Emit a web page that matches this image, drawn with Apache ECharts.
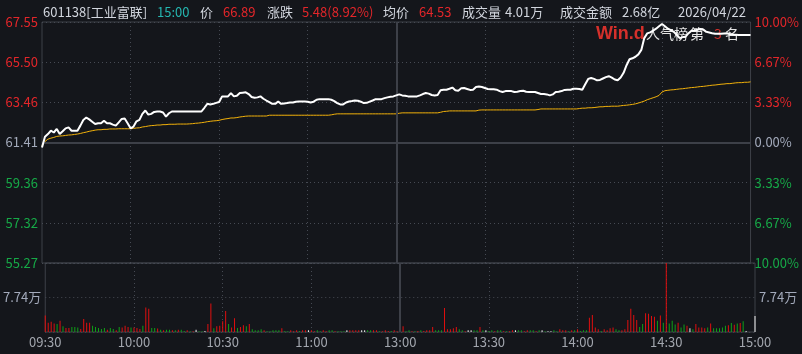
<!DOCTYPE html>
<html>
<head>
<meta charset="utf-8">
<script src="https://cdn.jsdelivr.net/npm/echarts@6/dist/echarts.min.js"></script>
<style>
html,body{margin:0;padding:0;background:#14161b}
#main{width:802px;height:354px}
</style>
</head>
<body>
<div id="main"></div>
<script>
const preClose = 61.41

// 分时价格 09:30 - 11:30, 13:01 - 15:00
const price = [
  61.15, 61.70, 61.84, 62.01, 61.92, 62.10, 61.84, 61.98, 62.13, 62.18,
  62.01, 62.01, 62.01, 62.27, 62.56, 62.68, 62.59, 62.47, 62.35, 62.39,
  62.39, 62.52, 62.39, 62.39, 62.32, 62.27, 62.44, 62.61, 62.63, 62.39,
  62.13, 62.22, 62.49, 62.56, 62.87, 63.04, 62.83, 62.87, 62.97, 62.99,
  62.99, 62.94, 62.73, 62.90, 62.99, 62.99, 62.99, 62.99, 62.99, 62.99,
  62.99, 62.99, 62.99, 62.99, 62.99, 63.18, 63.38, 63.35, 63.38, 63.43,
  63.47, 63.76, 63.76, 63.76, 63.93, 63.76, 63.79, 63.93, 63.95, 63.97,
  63.88, 63.73, 63.69, 63.71, 63.76, 63.64, 63.55, 63.47, 63.38, 63.38,
  63.50, 63.38, 63.40, 63.42, 63.45, 63.45, 63.49, 63.50, 63.50, 63.50,
  63.49, 63.45, 63.49, 63.59, 63.62, 63.62, 63.62, 63.62, 63.59, 63.52,
  63.42, 63.35, 63.35, 63.45, 63.50, 63.52, 63.55, 63.54, 63.49, 63.42,
  63.43, 63.49, 63.55, 63.62, 63.62, 63.62, 63.67, 63.71, 63.74, 63.76,
  63.81, 63.86, 63.81, 63.79, 63.76, 63.76, 63.76, 63.76, 63.81, 63.88,
  63.93, 63.90, 63.83, 63.81, 63.83, 64.07, 64.10, 64.10, 64.15, 64.21,
  64.07, 64.05, 64.17, 64.19, 64.14, 64.09, 64.10, 64.24, 64.26, 64.24,
  64.19, 64.14, 64.12, 64.12, 64.10, 64.03, 63.98, 64.03, 64.03, 64.03,
  63.98, 64.00, 64.03, 64.05, 64.00, 63.98, 63.98, 63.98, 63.93, 63.88,
  63.88, 63.86, 63.81, 63.86, 63.98, 64.00, 64.03, 64.09, 64.10, 64.10,
  64.15, 64.15, 64.14, 64.10, 64.38, 64.65, 64.70, 64.65, 64.58, 64.60,
  64.67, 64.74, 64.79, 64.72, 64.62, 64.58, 64.72, 64.96, 65.35, 65.65,
  65.70, 65.78, 65.90, 66.13, 66.73, 66.97, 67.02, 67.11, 67.21, 67.33,
  67.45, 67.33, 67.21, 67.14, 67.05, 66.90, 66.73, 66.78, 66.81, 66.98,
  67.11, 67.12, 67.16, 67.19, 67.16, 67.05, 67.02, 66.98, 66.95, 66.95,
  66.95, 66.97, 66.98, 66.93, 66.91, 66.90, 66.89, 66.89, 66.89, 66.89,
  66.89
]

// 均价
const avgPrice = [
  61.24, 61.46, 61.58, 61.63, 61.67, 61.72, 61.74, 61.75, 61.77, 61.79,
  61.80, 61.82, 61.84, 61.87, 61.91, 61.94, 61.98, 62.01, 62.04, 62.06,
  62.06, 62.08, 62.08, 62.10, 62.10, 62.10, 62.11, 62.11, 62.11, 62.11,
  62.11, 62.13, 62.15, 62.16, 62.20, 62.22, 62.25, 62.27, 62.28, 62.30,
  62.30, 62.32, 62.32, 62.34, 62.34, 62.34, 62.35, 62.35, 62.35, 62.35,
  62.36, 62.37, 62.39, 62.40, 62.42, 62.44, 62.47, 62.49, 62.51, 62.52,
  62.54, 62.58, 62.61, 62.63, 62.66, 62.66, 62.68, 62.71, 62.73, 62.75,
  62.76, 62.76, 62.76, 62.76, 62.76, 62.76, 62.76, 62.80, 62.80, 62.80,
  62.80, 62.80, 62.80, 62.80, 62.80, 62.80, 62.80, 62.80, 62.80, 62.80,
  62.80, 62.80, 62.80, 62.80, 62.80, 62.80, 62.80, 62.80, 62.82, 62.85,
  62.87, 62.87, 62.87, 62.87, 62.87, 62.87, 62.87, 62.87, 62.87, 62.87,
  62.87, 62.87, 62.87, 62.87, 62.87, 62.87, 62.87, 62.87, 62.87, 62.87,
  62.87, 62.90, 62.92, 62.92, 62.92, 62.92, 62.92, 62.92, 62.92, 62.92,
  62.92, 62.92, 62.92, 62.92, 62.92, 62.95, 62.99, 63.00, 63.02, 63.02,
  63.02, 63.02, 63.02, 63.02, 63.02, 63.02, 63.02, 63.02, 63.06, 63.07,
  63.07, 63.07, 63.07, 63.07, 63.07, 63.07, 63.07, 63.07, 63.07, 63.07,
  63.07, 63.07, 63.07, 63.07, 63.07, 63.07, 63.07, 63.07, 63.09, 63.12,
  63.12, 63.12, 63.12, 63.12, 63.12, 63.12, 63.12, 63.12, 63.12, 63.12,
  63.12, 63.12, 63.14, 63.16, 63.16, 63.18, 63.18, 63.19, 63.21, 63.23,
  63.23, 63.25, 63.25, 63.26, 63.26, 63.26, 63.28, 63.30, 63.31, 63.33,
  63.35, 63.38, 63.42, 63.47, 63.52, 63.59, 63.64, 63.69, 63.74, 63.81,
  63.98, 64.05, 64.07, 64.09, 64.10, 64.12, 64.14, 64.15, 64.17, 64.19,
  64.21, 64.22, 64.24, 64.26, 64.27, 64.29, 64.31, 64.33, 64.34, 64.36,
  64.38, 64.39, 64.41, 64.41, 64.43, 64.45, 64.46, 64.46, 64.48, 64.48,
  64.50
]

// 成交量(万)
const volume = [
  3.7, 2.1, 2.3, 1.9, 1.8, 2.5, 1.3, 0.9, 0.9, 1.1,
  1.1, 1.0, 0.7, 2.9, 2.1, 2.1, 1.4, 1.1, 0.9, 0.7,
  0.9, 0.5, 0.9, 0.7, 0.4, 1.1, 1.0, 1.4, 1.1, 1.0,
  1.0, 0.9, 0.7, 1.4, 5.5, 5.2, 0.9, 0.9, 0.8, 0.5,
  0.4, 0.5, 0.5, 0.4, 0.4, 0.5, 0.5, 0.2, 0.4, 0.15,
  0.15, 0.5, 0.15, 0.15, 0.2, 1.8, 6.4, 0.85, 1.3, 1.4,
  2.4, 4.7, 1.8, 1.0, 3.1, 0.9, 1.1, 1.5, 1.3, 1.8,
  0.6, 0.4, 0.4, 0.6, 0.4, 0.15, 0.15, 0.4, 0.4, 0.4,
  0.85, 0.2, 0.15, 0.4, 0.15, 0.4, 0.2, 0.4, 0.4, 0.4,
  0.4, 0.15, 0.4, 0.15, 0.4, 0.15, 0.4, 0.4, 0.15, 0.15,
  0.15, 0.15, 0.4, 0.4, 0.4, 0.4, 0.4, 0.4, 0.4, 0.4,
  0.4, 0.4, 0.4, 0.15, 0.15, 0.4, 0.2, 0.2, 0.4, 0.15,
  0.2, 1.3, 0.15, 0.4, 0.15, 0.15, 0.2, 0.4, 0.2, 0.4,
  0.4, 1.1, 0.4, 0.4, 0.4, 5.4, 0.6, 0.6, 0.85, 1.1,
  0.6, 0.4, 0.15, 0.4, 0.4, 0.4, 0.4, 1.1, 0.4, 0.4,
  0.2, 0.4, 0.15, 0.4, 0.4, 0.15, 0.15, 0.15, 0.4, 0.4,
  0.4, 0.4, 0.15, 0.4, 0.4, 0.4, 0.15, 0.4, 0.4, 0.15,
  0.15, 0.15, 0.4, 0.15, 0.6, 0.4, 0.4, 0.15, 0.4, 0.4,
  0.6, 0.2, 0.4, 0.4, 3.2, 3.8, 1.0, 0.6, 0.2, 0.6,
  0.4, 0.85, 1.0, 0.6, 0.4, 0.4, 0.6, 2.7, 5.2, 3.8,
  2.7, 1.1, 1.8, 4.2, 4.1, 3.6, 3.4, 2.5, 3.7, 2.1,
  15.6, 1.9, 2.5, 1.7, 2.1, 1.0, 1.7, 1.4, 0.85, 0.6,
  1.8, 1.0, 1.0, 0.85, 1.0, 1.9, 0.85, 0.85, 0.85, 1.0,
  1.4, 1.5, 2.0, 1.6, 1.9, 2.0, 2.4, 0.2, 0, 0,
  3.6
]

// r 上涨 g 下跌 w 平
const volDir = [
  'rrrrgrgrrg', 'ggrrrrgggg', 'grggrgrrrg', 'rrrgrrggrg', 'rggrgrggrg',
  'rwggwrrgrr', 'rrgrrgrrgr', 'ggggrggggg', 'rggrrrgrrw', 'rrggrrggrg',
  'ggwrrrrwwg', 'grrgrrrgrr', 'wrggrgrgrr', 'rrgggrrrrr', 'ggrwwggrgw',
  'ggrggrgrrw', 'ggrrggrgwg', 'wwggrrrgrg', 'rgggrrrrgr', 'rrrggrrrrr',
  'rggrrrrgrg', 'rgggrggrwg', 'rrrrgrgggg', 'grgrgrgwww', 'w'
].join('')

const volTick = 7.74

const timeTicks = ['09:30', '10:00', '10:30', '11:00', '13:00', '13:30', '14:00', '14:30', '15:00']

function hm(t) {
  const h = Math.floor(t / 60)
  const m = t % 60
  return (h < 10 ? '0' : '') + h + ':' + (m < 10 ? '0' : '') + m
}
const times = []
for (let t = 570; t <= 690; t++) times.push(hm(t))
for (let t = 781; t <= 900; t++) times.push(hm(t))

const RED = '#e3262a'
const GREEN = '#16a947'
const NEUTRAL = '#a3aabb'
const TXT = '#d2d6de'
const FONT = '"Noto Sans CJK SC", "Noto Sans", sans-serif'
const dotted = { color: '#464a53', width: 1, type: [1, 3] }
const barColor = { r: '#e00f0f', g: '#0fa017', w: '#f2f2f2' }

function priceColor(v) {
  v = parseFloat(v)
  if (Math.abs(v - preClose) < 0.01) return NEUTRAL
  return v > preClose ? RED : GREEN
}

const header = [
  ['601138[工业富联]', 43, TXT],
  ['15:00', 157, '#25b7b1'],
  ['价', 200, TXT],
  ['66.89', 223, RED],
  ['涨跌', 267, TXT],
  ['5.48(8.92%)', 302, RED],
  ['均价', 383, TXT],
  ['64.53', 419, RED],
  ['成交量', 462, TXT],
  ['4.01万', 505, TXT],
  ['成交金额', 560, TXT],
  ['2.68亿', 622, TXT],
  ['2026/04/22', 678, TXT],
]

const graphics = header.map(h => ({
  type: 'text', x: h[1], y: 12, z: 10,
  style: { text: h[0], fill: h[2], font: '13px ' + FONT, textVerticalAlign: 'middle' }
}))
// 水印
graphics.push(
  { type: 'text', x: 596, y: 34, z: 0, style: { text: 'Win.d', fill: '#d5302b', font: 'bold 18px "Liberation Sans", sans-serif', textVerticalAlign: 'middle' } },
  { type: 'text', x: 646, y: 34, z: 0, style: { text: '人气榜', fill: '#e4e4e4', font: '14px ' + FONT, textVerticalAlign: 'middle' } },
  { type: 'text', x: 690, y: 34, z: 0, style: { text: '第', fill: '#e4e4e4', font: '14px ' + FONT, textVerticalAlign: 'middle' } },
  { type: 'text', x: 714, y: 34, z: 0, style: { text: '3', fill: '#d5302b', font: '14px ' + FONT, textVerticalAlign: 'middle' } },
  { type: 'text', x: 725, y: 34, z: 0, style: { text: '名', fill: '#e4e4e4', font: '14px ' + FONT, textVerticalAlign: 'middle' } }
)

const chart = echarts.init(document.getElementById('main'), null, { renderer: 'canvas' })

const xBase = {
  type: 'category', data: times, boundaryGap: false,
  axisLine: { show: false }, axisTick: { show: false },
  splitLine: { show: true, interval: (i) => i % 30 === 0 && i !== 0 && i !== 120 && i !== 240, lineStyle: dotted },
}

const priceMin = preClose * 0.9
const priceMax = preClose * 1.1
const priceStep = preClose * 0.1 / 3

const sepLine = { color: '#3d4048', width: 2, type: 'solid' }

const option = {
  backgroundColor: '#14161b',
  animation: false,
  graphic: graphics,
  grid: [
    { left: 42, right: 47, top: 22, height: 241, show: true, borderColor: '#3d4048', borderWidth: 1 },
    { left: 42, right: 47, top: 263, height: 69, show: true, borderColor: '#3d4048', borderWidth: 1 },
  ],
  xAxis: [
    Object.assign({}, xBase, { gridIndex: 0, axisLabel: { show: false } }),
    Object.assign({}, xBase, {
      gridIndex: 1,
      axisLabel: {
        show: true, interval: (i) => i % 30 === 0, color: '#a2a6ae', fontSize: 13, fontFamily: FONT, margin: 4,
        formatter: (v) => (v === '11:30' ? timeTicks[4] : v)
      }
    }),
  ],
  yAxis: [
    {
      type: 'value', gridIndex: 0, position: 'left', min: priceMin, max: priceMax, interval: priceStep,
      axisLine: { show: false }, axisTick: { show: false },
      splitLine: { show: true, lineStyle: dotted },
      axisLabel: { fontSize: 13, fontFamily: FONT, margin: 4, formatter: (v) => v.toFixed(2), color: priceColor }
    },
    {
      type: 'value', gridIndex: 0, position: 'right', min: priceMin, max: priceMax, interval: priceStep,
      axisLine: { show: false }, axisTick: { show: false }, splitLine: { show: false },
      axisLabel: {
        fontSize: 13, fontFamily: FONT, margin: 4, color: priceColor,
        formatter: (v) => Math.abs((v - preClose) / preClose * 100).toFixed(2) + '%'
      }
    },
    {
      type: 'value', gridIndex: 1, position: 'left', min: 0, max: volTick * 2, interval: volTick,
      axisLine: { show: false }, axisTick: { show: false },
      splitLine: { show: true, lineStyle: dotted },
      axisLabel: { fontSize: 13, fontFamily: FONT, margin: 4, color: NEUTRAL, formatter: (v) => (Math.abs(v - volTick) < 0.01 ? volTick.toFixed(2) + '万' : '') }
    },
    {
      type: 'value', gridIndex: 1, position: 'right', min: 0, max: volTick * 2, interval: volTick,
      axisLine: { show: false }, axisTick: { show: false }, splitLine: { show: false },
      axisLabel: { fontSize: 13, fontFamily: FONT, margin: 4, color: NEUTRAL, formatter: (v) => (Math.abs(v - volTick) < 0.01 ? volTick.toFixed(2) + '万' : '') }
    },
  ],
  series: [
    {
      name: '价格', type: 'line', xAxisIndex: 0, yAxisIndex: 0, data: price,
      symbol: 'none', z: 5, lineStyle: { color: '#ffffff', width: 2 },
      markLine: {
        silent: true, symbol: 'none', label: { show: false }, lineStyle: sepLine,
        data: [{ yAxis: preClose }, { xAxis: '11:30' }]
      }
    },
    {
      name: '均价', type: 'line', xAxisIndex: 0, yAxisIndex: 0, data: avgPrice,
      symbol: 'none', z: 4, lineStyle: { color: '#f2b10a', width: 1 }
    },
    {
      name: '成交量', type: 'bar', xAxisIndex: 1, yAxisIndex: 2, data: volume, barWidth: 1,
      itemStyle: { color: (p) => barColor[volDir[p.dataIndex]] },
      markLine: {
        silent: true, symbol: 'none', label: { show: false }, lineStyle: sepLine,
        data: [{ xAxis: '11:30' }]
      }
    },
  ]
}

chart.setOption(option)
</script>
</body>
</html>
